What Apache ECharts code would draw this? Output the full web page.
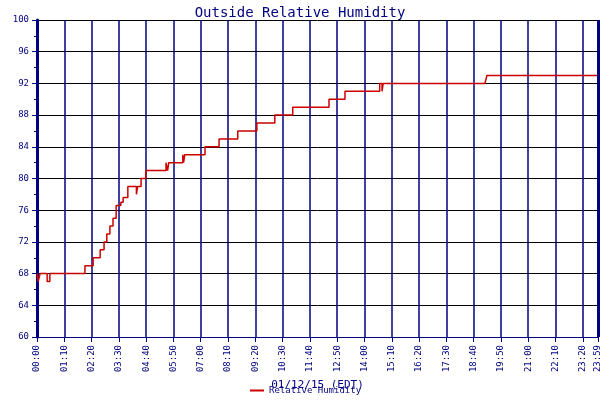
<!DOCTYPE html>
<html><head><meta charset="utf-8">
<script src="https://cdn.jsdelivr.net/npm/echarts@6/dist/echarts.min.js"></script>
<style>html,body{margin:0;background:#fff}#c{width:600px;height:400px}</style>
</head><body><div id="c"></div>
<script>
// minutes since midnight
const times = [0,3,8,26,33,123,144,162,172,179,187,195,203,215,221,233,246,255,258,267,279,331,335,338,341,374,376,379,431,467,515,564,610,656,749,790,879,885,888,1149,1154,1439];
const humidity = [68,67,68,67,68,69,70,71,72,73,74,75,76.6,77,77.6,79,79,78,79,80,81,82,81,82,82,83,82,83,84,85,86,87,88,89,90,91,92,91,92,92,93,93];
const yTicks = [60,64,68,72,76,80,84,88,92,96,100];
const data = times.map((t,i)=>[t,humidity[i]]);
const c = echarts.init(document.getElementById('c'));
const navy = '#000080';
const fmt = v => { const h=Math.floor(v/60), m=v%60; return String(h).padStart(2,'0')+':'+String(m).padStart(2,'0'); };
c.setOption({
  animation:false,
  title:{text:'Outside Relative Humidity',left:'center',top:1,textStyle:{color:navy,fontFamily:'DejaVu Sans Mono',fontSize:14,fontWeight:'normal'}},
  grid:{left:37,right:2,top:20,bottom:63,containLabel:false,outerBoundsMode:'none'},
  legend:{bottom:0,left:245,itemWidth:14,itemHeight:2,icon:'rect',textStyle:{color:navy,fontSize:9,fontFamily:'DejaVu Sans Mono'},data:['Relative Humidity']},
  xAxis:{type:'value',min:0,max:1439,interval:70,name:'01/12/15 (EDT)',nameLocation:'middle',nameGap:42,
    nameTextStyle:{color:navy,fontFamily:'DejaVu Sans Mono',fontSize:11},
    axisLine:{lineStyle:{color:navy,width:1}},axisTick:{show:true,lineStyle:{color:navy}},
    axisLabel:{rotate:90,color:navy,fontSize:9,fontFamily:'DejaVu Sans Mono',formatter:fmt,showMaxLabel:true},
    splitLine:{show:true,lineStyle:{color:navy,width:1.5}}},
  yAxis:{type:'value',min:60,max:100,interval:4,name:'Per Cent',nameLocation:'middle',nameGap:25,
    nameTextStyle:{color:navy,fontFamily:'DejaVu Sans Mono',fontSize:11},
    axisLine:{show:true,lineStyle:{color:navy,width:3}},axisTick:{show:true,lineStyle:{color:navy}},
    minorTick:{show:true,splitNumber:2,lineStyle:{color:navy}},
    axisLabel:{color:navy,fontSize:9,fontFamily:'DejaVu Sans Mono'},
    splitLine:{show:true,lineStyle:{color:'#000000',width:1}}},
  series:[{name:'Relative Humidity',type:'line',step:'end',data:data,showSymbol:false,
    lineStyle:{color:'#cc0000',width:1.5},itemStyle:{color:'#cc0000'},
    markLine:{silent:true,symbol:'none',label:{show:false},lineStyle:{color:navy,type:'solid',width:3},data:[{xAxis:1439}]}}]
});
</script></body></html>
